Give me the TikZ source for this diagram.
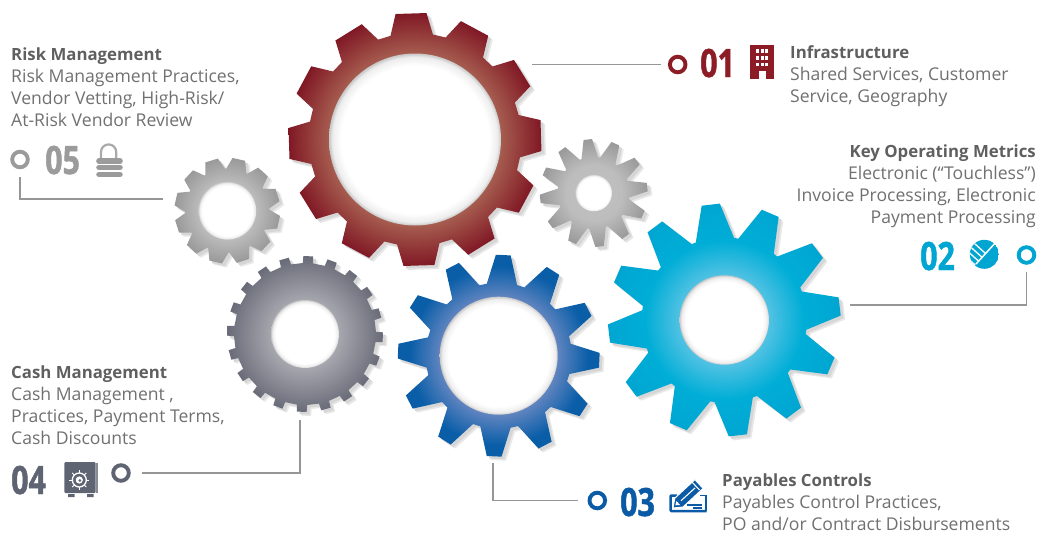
\documentclass[tikz,border=0pt]{standalone}
\usepackage{fontspec}
\setmainfont{Open Sans}
\newfontfamily\numfont[FakeStretch=0.78,FakeBold=1.2]{Open Sans}
\usetikzlibrary{calc}
\definecolor{cred}{RGB}{140,28,38}
\definecolor{ccyan}{RGB}{0,165,210}
\definecolor{cblue}{RGB}{10,90,165}
\definecolor{cdark}{RGB}{95,100,115}
\definecolor{cgrey}{RGB}{155,155,155}
\definecolor{lineg}{RGB}{150,150,150}
\definecolor{headc}{RGB}{95,95,95}
\definecolor{bodyc}{RGB}{112,112,112}
\pgfdeclareradialshading{redcog}{\pgfpointorigin}{rgb(0bp)=(0.65,0.36,0.31);rgb(17bp)=(0.65,0.36,0.31);rgb(25bp)=(0.50,0.09,0.14);rgb(50bp)=(0.50,0.09,0.14)}
\pgfdeclareradialshading{bluecog}{\pgfpointorigin}{rgb(0bp)=(0.42,0.55,0.76);rgb(14.5bp)=(0.38,0.52,0.75);rgb(22bp)=(0.04,0.37,0.66);rgb(50bp)=(0.04,0.37,0.66)}
\pgfdeclareradialshading{cyancog}{\pgfpointorigin}{rgb(0bp)=(0.36,0.78,0.90);rgb(9.6bp)=(0.32,0.76,0.89);rgb(17bp)=(0,0.68,0.84);rgb(25bp)=(0,0.65,0.82);rgb(50bp)=(0,0.65,0.82)}
\pgfdeclareradialshading{darkcog}{\pgfpointorigin}{rgb(0bp)=(0.68,0.68,0.71);rgb(11bp)=(0.65,0.65,0.68);rgb(25bp)=(0.41,0.42,0.47);rgb(50bp)=(0.41,0.42,0.47)}
\pgfdeclareradialshading{greycog}{\pgfpointorigin}{rgb(0bp)=(0.76,0.76,0.76);rgb(13bp)=(0.74,0.74,0.74);rgb(25bp)=(0.60,0.60,0.60);rgb(50bp)=(0.60,0.60,0.60)}
\pgfdeclareradialshading{cogbore}{\pgfpointorigin}{rgb(0bp)=(1,1,1);rgb(21.5bp)=(1,1,1);rgb(24bp)=(0.93,0.93,0.93);rgb(25bp)=(0.78,0.78,0.78);rgb(50bp)=(0.78,0.78,0.78)}
% #1 centre  #2 teeth  #3 root radius  #4 tip radius  #5 phase  #6 base half angle  #7 tip half angle  #8 bore radius  #9 shading
\newcommand{\cog}[9]{%
  \begin{scope}[shift={(#1)},y=1pt]
    \def\cogoutline{({#5-#6}:#3) \foreach \i in {1,...,#2} {
        -- ({#5+360*(\i-1)/#2-#6}:#3) -- ({#5+360*(\i-1)/#2-#7}:#4)
        -- ({#5+360*(\i-1)/#2+#7}:#4) -- ({#5+360*(\i-1)/#2+#6}:#3)} -- cycle}
    \begin{scope}[shift={(4.5,-4)}]\fill[black!9] \cogoutline;\end{scope}
    \begin{scope}[shift={(2.8,-2.6)}]\fill[black!16] \cogoutline;\end{scope}
    \begin{scope}
      \clip \cogoutline;
      \shade[shading=#9] (0,0) circle (#4);
    \end{scope}
    \shade[shading=cogbore] (0,0) circle (#8);
  \end{scope}}
\tikzset{
  conn/.style={draw=lineg,line width=1.7pt},
  ringdot/.style={circle,draw=#1,line width=3.9pt,fill=white,minimum size=15.6pt,inner sep=0pt,outer sep=0pt},
  headtext/.style={inner sep=0pt,align=#1,font=\fontsize{17.6}{22}\selectfont,text=bodyc},
  numtext/.style={inner sep=0pt,anchor=base west,font=\numfont\bfseries\fontsize{39}{39}\selectfont,text=#1},
}
\newcommand{\hd}[1]{{\bfseries\color{headc}\fontsize{16.8}{22}\selectfont#1}}
\begin{document}
\begin{tikzpicture}[x=1pt,y=-1pt]
\useasboundingbox (0,0) rectangle (1047,533);
% gears
\cog{415,139.5}{12}{106.5}{127}{91.8}{11.5}{7}{86}{redcog}
\cog{498.7,355.7}{12}{73}{101}{87.4}{12}{4.2}{59}{bluecog}
\cog{724.3,320}{12}{82.6}{116.5}{96.7}{13.5}{4.5}{44.7}{cyancog}
\cog{305,334}{20}{71}{78}{87.6}{4.2}{3.6}{34}{darkcog}
\cog{227.3,210.7}{12}{42}{53}{77.3}{14.3}{7}{29}{greycog}
\cog{593.7,193}{12}{36}{54}{96.3}{13.5}{4.5}{18.3}{greycog}
% ring markers
\node[ringdot=cred] (c1) at (677.7,64.5) {};
\node[ringdot=ccyan] (c2) at (1026.5,255) {};
\node[ringdot=cblue] (c3) at (597.3,500.5) {};
\node[ringdot=cdark] (c4) at (121,473) {};
\node[ringdot=cgrey] (c5) at (20,159.5) {};
% connector free ends
\coordinate (g1) at (532,64.5);
\coordinate (g2) at (850,305);
\coordinate (g3) at (493,463);
\coordinate (g4) at (300,420);
\coordinate (g5) at (163,199);
\draw[conn,shorten >=8.9pt] (g1) -- (c1);
\draw[conn,shorten >=9.2pt] (g2) -| (c2);
\draw[conn,shorten >=11.5pt] (g3) |- (c3);
\draw[conn,shorten >=13.2pt] (g4) |- (c4);
\draw[conn,shorten >=9.7pt] (g5) -| (c5);
% texts
\node[headtext=left,anchor=north west] (t1) at (790,42.6) {\strut\hd{Infrastructure}\\\strut Shared Services, Customer\\\strut Service, Geography};
\node[headtext=right,anchor=north east] (t2) at (1036,141.6) {\strut\hd{Key Operating Metrics}\\\strut Electronic (“Touchless”)\\\strut Invoice Processing, Electronic\\\strut Payment Processing};
\node[headtext=left,anchor=north west] (t3) at (722,470.6) {\strut\hd{Payables Controls}\\\strut Payables Control Practices,\\\strut PO and/or Contract Disbursements};
\node[headtext=left,anchor=north west] (t4) at (11,362.6) {\strut\hd{Cash Management}\\\strut Cash Management ,\\\strut Practices, Payment Terms,\\\strut Cash Discounts};
\node[headtext=left,anchor=north west] (t5) at (11,44.6) {\strut\hd{Risk Management}\\\strut Risk Management Practices,\\\strut Vendor Vetting, High-Risk/\\\strut At-Risk Vendor Review};
% numbers
\node[numtext=cred] (n1) at (700,77) {01};
\node[numtext=ccyan] (n2) at (920,270) {02};
\node[numtext=cblue] (n3) at (620,516) {03};
\node[numtext=cdark] (n4) at (11,494) {04};
\node[numtext=cgrey] (n5) at (45,174) {05};
% icon 01: building
\fill[cred] (750.3,44.7) rectangle (773.7,79.3);
\foreach \wx in {755.9,760.6,765.3} \foreach \wy in {49.3,55.9,62.5}
  \fill[white] (\wx,\wy) rectangle ++(3,3.7);
\fill[white] (759.3,71.3) rectangle (766,79.3);
% icon 02: pie
\begin{scope}
  \clip (984.3,254.3) circle (14.5);
  \fill[ccyan] (984.3,254.3) circle (14.5);
  \draw[white,line width=1.5pt] (997,241) -- (976,264);
  \foreach \sx/\sy in {975.2/265,978.7/261.2,982.2/257.4,985.7/253.6}
    \draw[white,line width=1.3pt] (\sx,\sy) -- ++(-20,-18);
\end{scope}
% icon 03: cheque and pencil
\draw[cblue,line width=1.5pt] (700,495.5) -- (705.8,495.5) -- (705.8,511) ;
\draw[cblue,line width=2.5pt,rounded corners=1pt] (677,495.5) -- (670.5,495.5) -- (670.5,511.2) -- (706.5,511.2);
\draw[cblue,line width=1.4pt] (687,505) -- (702,505) (693,508) -- (702,508);
\fill[cblue,draw=white,line width=1pt,line join=round] (673,508) -- (683,507) -- (703.1,488.4) -- (694.9,479.6) -- (674.8,498.2) -- cycle;
\draw[white,line width=1.1pt] (681,500.7) -- (695,488) (691.5,481.5) -- (699.5,490);
\fill[white] (675.3,505.3) -- (680,505) -- (676.5,501) -- cycle;
% icon 04: safe
\fill[cdark,rounded corners=1.2pt] (64.3,462) rectangle (95.7,493);
\fill[cdark!75] (96.4,462.5) rectangle (97.8,492.5);
\fill[cdark] (68,494) rectangle (74.5,497) (87,494) rectangle (93.5,497);
\foreach \ang in {0,45,...,315} \draw[white,line width=0.9pt] (79.3,480) ++(\ang:7) -- ++(\ang:3);
\draw[white,line width=1.3pt] (79.3,480) circle (7);
\fill[white] (79.3,480) circle (3.6);
\fill[cdark] (79.8,480.5) circle (1.5);
% icon 05: padlock
\draw[cgrey!85,line width=2.2pt] (101,159) -- (101,152) arc[start angle=180,end angle=360,x radius=7.6,y radius=7.6] -- (116.2,159);
\draw[cgrey,line width=5.6pt,line cap=round] (99,161) -- (120,161) (99,167.5) -- (120,167.5) (99,174.5) -- (120,174.5);
\end{tikzpicture}
\end{document}
